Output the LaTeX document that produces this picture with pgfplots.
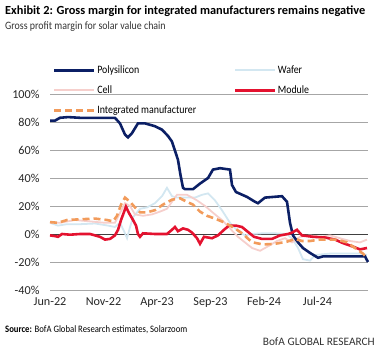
\documentclass[border=0pt]{standalone}
\usepackage{fontspec}
\setmainfont{Carlito}
\newfontfamily\condensed[FakeStretch=0.88]{Carlito}
\usepackage{pgfplots}
\pgfplotsset{compat=1.18}
\definecolor{cnavy}{HTML}{0B1F65}
\definecolor{cred}{HTML}{E4122F}
\definecolor{corange}{HTML}{F29B5B}
\definecolor{cwafer}{HTML}{D3E7F1}
\definecolor{ccell}{HTML}{F6CFCC}
\definecolor{cgrid}{HTML}{A6A6A6}
\begin{document}
\begin{tikzpicture}
\useasboundingbox (0,0) rectangle (385bp,356bp);
\node[anchor=base west, inner sep=0pt, font=\fontsize{12.4}{14}\selectfont\bfseries] at (5bp,341bp) {Exhibit 2: Gross margin for integrated manufacturers remains negative};
\node[anchor=base west, inner sep=0pt, font=\fontsize{11.3}{13}\condensed, text=black!80] at (5bp,326.5bp) {Gross profit margin for solar value chain};
\node[anchor=base west, inner sep=0pt, font=\fontsize{9.9}{11}\condensed] at (5bp,24bp) {\textbf{Source:} BofA Global Research estimates, Solarzoom};
\node[anchor=base east, inner sep=0pt, font=\fontsize{11.4}{12}\selectfont, text=black!80] at (375bp,11bp) {BofA GLOBAL RESEARCH};
\begin{axis}[
  at={(50bp,66bp)}, anchor=south west, scale only axis,
  width=318bp, height=196bp,
  xmin=0, xmax=29.72, ymin=-40, ymax=100,
  axis line style={draw=none},
  major tick length=0pt,
  ytick={-40,-20,...,100},
  yticklabel={\pgfmathprintnumber{\tick}\%},
  /pgf/number format/assume math mode=true,
  ymajorgrids, grid style={cgrid, line width=0.8pt},
  extra y ticks={0}, extra y tick labels={},
  extra tick style={grid style={black!75, line width=0.8pt}},
  xtick={0,5,10,15,20,25},
  xticklabels={Jun-22,Nov-22,Apr-23,Sep-23,Feb-24,Jul-24},
  tick label style={font=\fontsize{12.2}{13}\selectfont, text=black!85},
  yticklabel style={xshift=-7bp},
  xticklabel style={yshift=-4bp},
  clip=false,
  legend columns=2,
  legend cell align=left,
  legend style={at={(axis description cs:0.0,1.165)}, anchor=north west, draw=none, fill=none,
    font=\fontsize{11.3}{13}\condensed, row sep=7bp,
    nodes={inner sep=1.5bp, text height=8bp, text depth=2bp},
    /tikz/every even column/.append style={column sep=36bp}},
  legend image code/.code={\draw[#1] (0bp,0bp) -- (40bp,0bp);},
]
\addlegendimage{cnavy, line width=2.6pt}
\addlegendentry{Polysilicon}
\addlegendimage{cwafer, line width=2pt}
\addlegendentry{Wafer}
\addlegendimage{ccell, line width=2pt}
\addlegendentry{Cell}
\addlegendimage{cred, line width=2.6pt}
\addlegendentry{Module}
\addlegendimage{corange, line width=2.6pt, dash pattern=on 7bp off 4bp}
\addlegendentry{Integrated manufacturer}

% Wafer
\addplot[forget plot, cwafer, line width=1.8pt] coordinates {
(0,8)(0.75,6)(1.59,7)(2.80,7)(4.21,7.5)(5.42,6)(6.07,5)(6.54,8)(6.92,2)(7.20,-3)(7.48,5)(7.76,12)(8.41,18)(9.07,19)(9.81,22)(10.47,27)(10.93,33)(11.40,27)(11.87,26)(12.62,26)(13.55,26)(14.21,28)(14.77,29)(15.42,24)(16.07,17)(16.82,8)(17.57,2)(18.22,-1)(18.88,0)(19.81,0.5)(21.03,0.5)(22.15,0)(22.71,-4)(23.18,-10)(23.64,-18)(24.30,-19)(24.77,-15)(26.17,-14)(27.57,-14)(28.97,-14)(29.63,-15)
};
% Cell
\addplot[forget plot, ccell, line width=1.8pt] coordinates {
(0,8)(0.93,8)(2.34,10)(3.74,9)(5.14,8)(6.07,8)(6.54,15)(7.01,22)(7.48,20)(7.94,14)(8.69,13)(9.53,14)(10.28,16)(10.93,18)(11.40,23)(11.87,28)(12.80,28)(13.74,24)(14.49,20)(15.42,14)(16.07,10)(16.82,4)(17.57,-2)(18.22,-6)(18.88,-10)(19.63,-12)(20.56,-8)(21.21,-5)(21.96,-3)(22.62,-6)(23.36,-2)(24.30,-1)(25.23,-2)(26.17,-1)(27.10,-3)(28.04,-5)(28.97,-6)(29.63,-4)
};
% Polysilicon
\addplot[forget plot, cnavy, line width=2.6pt] coordinates {
(0,81)(0.47,81)(0.93,83)(1.68,83.5)(2.80,83)(4.21,83)(5.61,83)(6.07,83)(6.54,79)(7.01,71)(7.29,69)(7.66,72)(8.22,79)(8.88,79)(9.81,77)(10.47,74.5)(11.03,70)(11.40,66)(11.96,53)(12.20,42)(12.43,33)(12.62,32)(13.36,32)(14.02,36)(14.77,40)(15.23,46)(15.89,47)(16.82,46)(17.01,35)(17.38,30)(18.41,26.5)(19.16,23)(19.44,22)(20.09,26)(21.68,27)(22.15,23)(22.43,8)(22.71,-1)(23.18,-6)(23.64,-10)(24.30,-13.5)(25.05,-17)(25.51,-16)(27.57,-16)(29.44,-16)(29.72,-20)
};
% Module
\addplot[forget plot, cred, line width=2.6pt] coordinates {
(0,-1)(0.47,-1.5)(0.75,-2)(1.12,0)(1.87,-0.5)(2.80,0)(3.74,0)(4.21,-1)(4.67,-2)(5.14,-4)(5.61,-3.5)(6.07,-1)(6.36,3)(6.64,10)(7.10,19.5)(7.38,15)(7.76,10)(8.04,6)(8.22,0)(8.41,-2)(8.69,0.5)(9.81,0)(10.93,0)(11.40,3)(11.68,5)(11.96,2)(12.43,4)(12.90,3)(13.27,1)(13.74,-3)(14.02,-7)(14.39,-2)(15.14,-3)(15.70,-1)(16.26,3)(16.73,6)(17.38,6)(17.94,5)(18.50,1.5)(19.07,-2)(19.81,-3.5)(20.75,-3.5)(21.50,-1)(22.24,0)(22.62,1)(23.08,3)(23.55,-1)(24.58,-2)(25.70,-2.5)(26.64,-4)(27.38,-6.5)(28.32,-9)(28.97,-11)(29.63,-10)
};
% Integrated manufacturer
\addplot[forget plot, corange, line width=2.6pt, dash pattern=on 7bp off 4bp] coordinates {
(0,8.5)(0.75,8)(1.59,10)(2.80,10.5)(4.21,11)(5.33,10)(5.89,9)(6.26,13)(6.64,21)(7.01,26)(7.48,23)(7.94,19)(8.41,15.5)(9.07,15.5)(9.81,17)(10.56,21)(11.40,24.5)(12.15,25.5)(12.80,23)(13.36,21)(14.02,16)(14.67,13)(15.42,11)(16.36,8)(17.29,4)(18.04,0)(18.60,-4)(18.97,-6)(19.91,-7.5)(21.03,-7)(22.15,-5.5)(22.90,-3.5)(23.55,-5)(24.30,-5)(25.23,-4)(26.17,-4)(26.82,-4)(27.76,-6)(28.69,-11)(29.25,-14)(29.63,-17)
};
\end{axis}
\end{tikzpicture}
\end{document}
